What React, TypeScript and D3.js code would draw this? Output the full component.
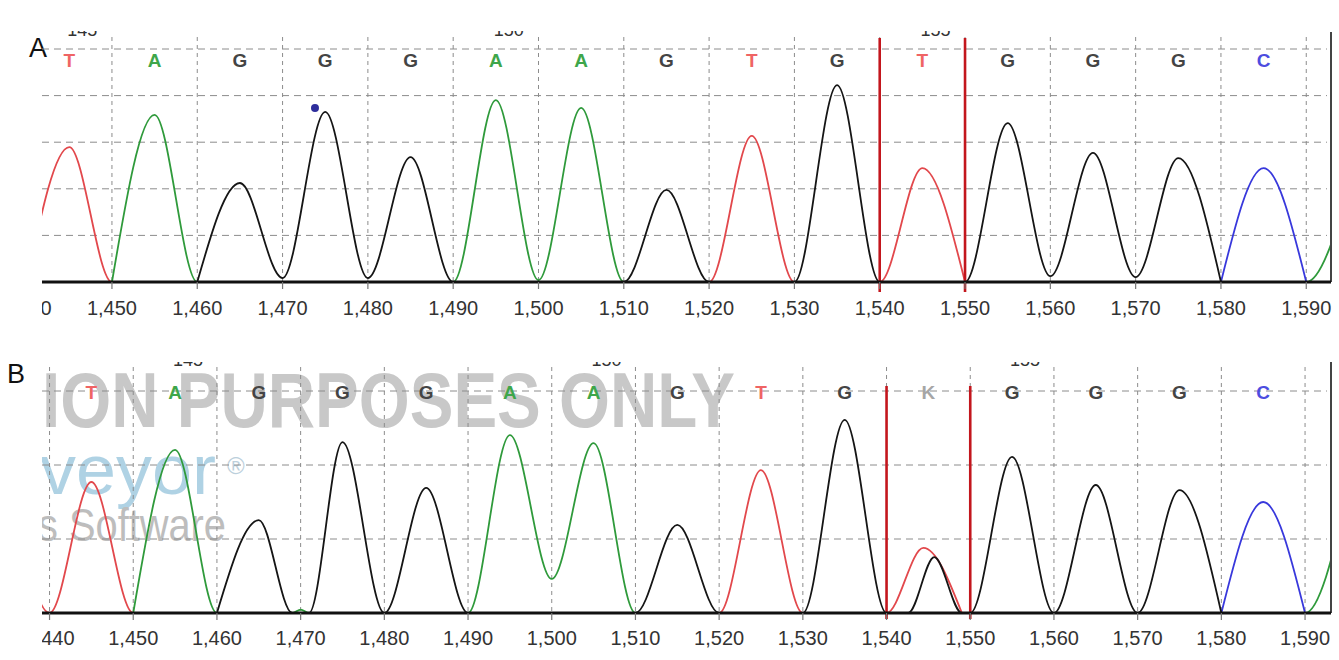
import React from 'react';
import * as d3 from 'd3';

// --- data ---
const tickValues = [1440, 1450, 1460, 1470, 1480, 1490, 1500, 1510, 1520, 1530, 1540, 1550, 1560, 1570, 1580, 1590];
const basePositions = [1445, 1455, 1465, 1475, 1485, 1495, 1505, 1515, 1525, 1535, 1545, 1555, 1565, 1575, 1585];
const basesA = ['T', 'A', 'G', 'G', 'G', 'A', 'A', 'G', 'T', 'G', 'T', 'G', 'G', 'G', 'C'];
const basesB = ['T', 'A', 'G', 'G', 'G', 'A', 'A', 'G', 'T', 'G', 'K', 'G', 'G', 'G', 'C'];
const baseNumbersA = [[1445, '145'], [1495, '150'], [1545, '155']];
const baseNumbersB = [[1455, '145'], [1505, '150'], [1555, '155']];
const markedRegion = [1540, 1550];

// trace key points: [scan position, signal]
const traceA_T = [[1440, 0], [1445, 579], [1450, 0], [1520, 0], [1525, 627], [1530, 0], [1540, 0], [1545, 489], [1550, 0]];
const traceA_A = [[1450, 0], [1455, 717], [1460, 0], [1490, 0], [1495, 781], [1500, 8], [1505, 747], [1510, 0], [1590, 0], [1595, 396]];
const traceA_G = [[1460, 0], [1465, 425], [1470, 17], [1475, 730], [1480, 17], [1485, 536], [1490, 0], [1510, 0], [1515, 395], [1520, 0],
  [1530, 0], [1535, 845], [1540, 0], [1550, 0], [1555, 682], [1560, 25], [1565, 554], [1570, 21], [1575, 532], [1580, 0]];
const traceA_C = [[1580, 0], [1585, 489], [1590, 0]];
const dotA = [1473.8, 747];

const traceB_T = [[1435, 420], [1440, 0], [1445, 354], [1450, 0], [1520, 0], [1525, 386], [1530, 0], [1540, 0], [1544.4, 176], [1549, 0]];
const traceB_A = [[1450, 0], [1455, 441], [1460, 0], [1469, 0], [1470, 9], [1471, 0], [1490, 0], [1495, 481], [1500, 92], [1505, 459], [1510, 0],
  [1590, 0], [1595, 312]];
const traceB_G = [[1460, 0], [1465, 251], [1469, 0], [1471, 0], [1475, 462], [1480, 0], [1485, 338], [1490, 0], [1510, 0], [1515, 238], [1520, 0],
  [1530, 0], [1535, 522], [1540, 0], [1542.6, 0], [1545.7, 151], [1549, 0], [1550, 0], [1555, 422], [1560, 0], [1565, 346], [1570, 0],
  [1575, 332], [1580, 0]];
const traceB_C = [[1580, 0], [1585, 300], [1590, 0]];

const traceColor = { T: '#e2484c', A: '#2f9a3b', G: '#151515', C: '#3838dc' };
const letterColor = { T: '#ef6464', A: '#3ea64a', G: '#444444', C: '#4d4de0', K: '#a6a6a6' };

const fmt = d3.format(',');
const LEFT = 42;
const RIGHT = 1331;

function Panel({ id, label, labelX, labelY, xDomain, yMax, baseline, yTop, gridTop, frameTop, redTop, redBottom,
  letterY, numberY, clipTop, tickLabelY, bases, numbers, traces, dot, gridValues, watermark }) {
  const x = d3.scaleLinear().domain(xDomain).range([LEFT, RIGHT]);
  const y = d3.scaleLinear().domain([0, yMax]).range([baseline, yTop]);
  const line = d3.line().x(d => x(d[0])).y(d => y(d[1])).curve(d3.curveMonotoneX);

  return (
    <g>
      <defs>
        <clipPath id={`all-${id}`}>
          <rect x={LEFT} y={clipTop} width={1339 - LEFT} height={360} />
        </clipPath>
        <clipPath id={`plot-${id}`}>
          <rect x={LEFT} y={clipTop} width={RIGHT - LEFT} height={baseline - clipTop + 3} />
        </clipPath>
      </defs>
      <text x={labelX} y={labelY} fontFamily="Liberation Sans, Arial, sans-serif" fontSize={27} fill="#111">{label}</text>

      <g clipPath={`url(#all-${id})`}>
        {watermark && (
          <g>
            <text x={42} y={427} fontFamily="Liberation Sans, Arial, sans-serif" fontWeight="bold" fontSize={78}
              fill="#c8c8c8" textLength={693} lengthAdjust="spacingAndGlyphs">ION PURPOSES ONLY</text>
            <text x={40} y={494} fontFamily="Liberation Sans, Arial, sans-serif" fontSize={70}
              fill="#afd2e4" textLength={176} lengthAdjust="spacingAndGlyphs">veyor</text>
            <text x={227} y={474} fontFamily="Liberation Sans, Arial, sans-serif" fontSize={24} fill="#bcd0dc">®</text>
            <text x={38} y={541} fontFamily="Liberation Sans, Arial, sans-serif" fontSize={46}
              fill="#bdbdbd" textLength={188} lengthAdjust="spacingAndGlyphs">s Software</text>
          </g>
        )}

        {/* grid */}
        {gridValues.map(v => (
          <line key={`h${v}`} x1={LEFT} x2={RIGHT - 4} y1={y(v)} y2={y(v)} stroke="#8c8c8c" strokeDasharray="7,5" />
        ))}
        {tickValues.map(t => (
          <line key={`v${t}`} x1={x(t)} x2={x(t)} y1={gridTop} y2={baseline} stroke="#8c8c8c" strokeDasharray="4,4" />
        ))}

        {/* base calls */}
        {bases.map((b, i) => (
          <text key={`b${i}`} x={x(basePositions[i])} y={letterY} textAnchor="middle" fontWeight="bold"
            fontFamily="Liberation Sans, Arial, sans-serif" fontSize={19} fill={letterColor[b]}>{b}</text>
        ))}
        {numbers.map(([p, s]) => (
          <text key={`n${s}`} x={x(p) - 2} y={numberY} fontFamily="Liberation Sans, Arial, sans-serif" fontSize={18} fill="#333">{s}</text>
        ))}

        {/* traces */}
        <g clipPath={`url(#plot-${id})`} fill="none" strokeWidth={1.8} strokeLinejoin="round">
          <path d={line(traces.T)} stroke={traceColor.T} />
          <path d={line(traces.A)} stroke={traceColor.A} />
          <path d={line(traces.C)} stroke={traceColor.C} />
          <path d={line(traces.G)} stroke={traceColor.G} />
        </g>
        {dot && <circle cx={x(dot[0])} cy={y(dot[1])} r={4} fill="#2e2e9c" />}

        {/* marked region */}
        {markedRegion.map(p => (
          <line key={`r${p}`} x1={x(p)} x2={x(p)} y1={redTop} y2={redBottom} stroke="#c3161d" strokeWidth={2.6} />
        ))}

        {/* frame, axis */}
        <line x1={RIGHT} x2={RIGHT} y1={frameTop} y2={baseline} stroke="#444" strokeWidth={2} />
        <line x1={LEFT} x2={RIGHT} y1={baseline} y2={baseline} stroke="#111" strokeWidth={3} />
        {tickValues.map(t => (
          <g key={`t${t}`}>
            <line x1={x(t)} x2={x(t)} y1={baseline} y2={baseline + 7} stroke="#777" strokeWidth={1.2} />
            <text x={x(t)} y={tickLabelY} textAnchor="middle" fontFamily="Liberation Sans, Arial, sans-serif"
              fontSize={20} fill="#333">{fmt(t)}</text>
          </g>
        ))}
      </g>
    </g>
  );
}

export default function App() {
  return (
    <svg width={1339} height={660} style={{ position: 'absolute', left: 0, top: 0, background: '#fff' }}>
      <rect width={1339} height={660} fill="#fff" />
      <Panel id="a" label="A" labelX={29} labelY={57} xDomain={[1441.8, 1592.9]} yMax={1000}
        baseline={282} yTop={49} gridTop={37} frameTop={32} redTop={38} redBottom={292}
        letterY={67} numberY={36} clipTop={31} tickLabelY={315}
        bases={basesA} numbers={baseNumbersA} dot={dotA}
        traces={{ T: traceA_T, A: traceA_A, G: traceA_G, C: traceA_C }}
        gridValues={[200, 400, 600, 800, 1000]} watermark={false} />
      <Panel id="b" label="B" labelX={7} labelY={383} xDomain={[1439.1, 1593.1]} yMax={600}
        baseline={613} yTop={391} gridTop={367} frameTop={362} redTop={386} redBottom={619}
        letterY={399} numberY={366} clipTop={362} tickLabelY={645}
        bases={basesB} numbers={baseNumbersB} dot={null}
        traces={{ T: traceB_T, A: traceB_A, G: traceB_G, C: traceB_C }}
        gridValues={[200, 400, 600]} watermark={true} />
    </svg>
  );
}
